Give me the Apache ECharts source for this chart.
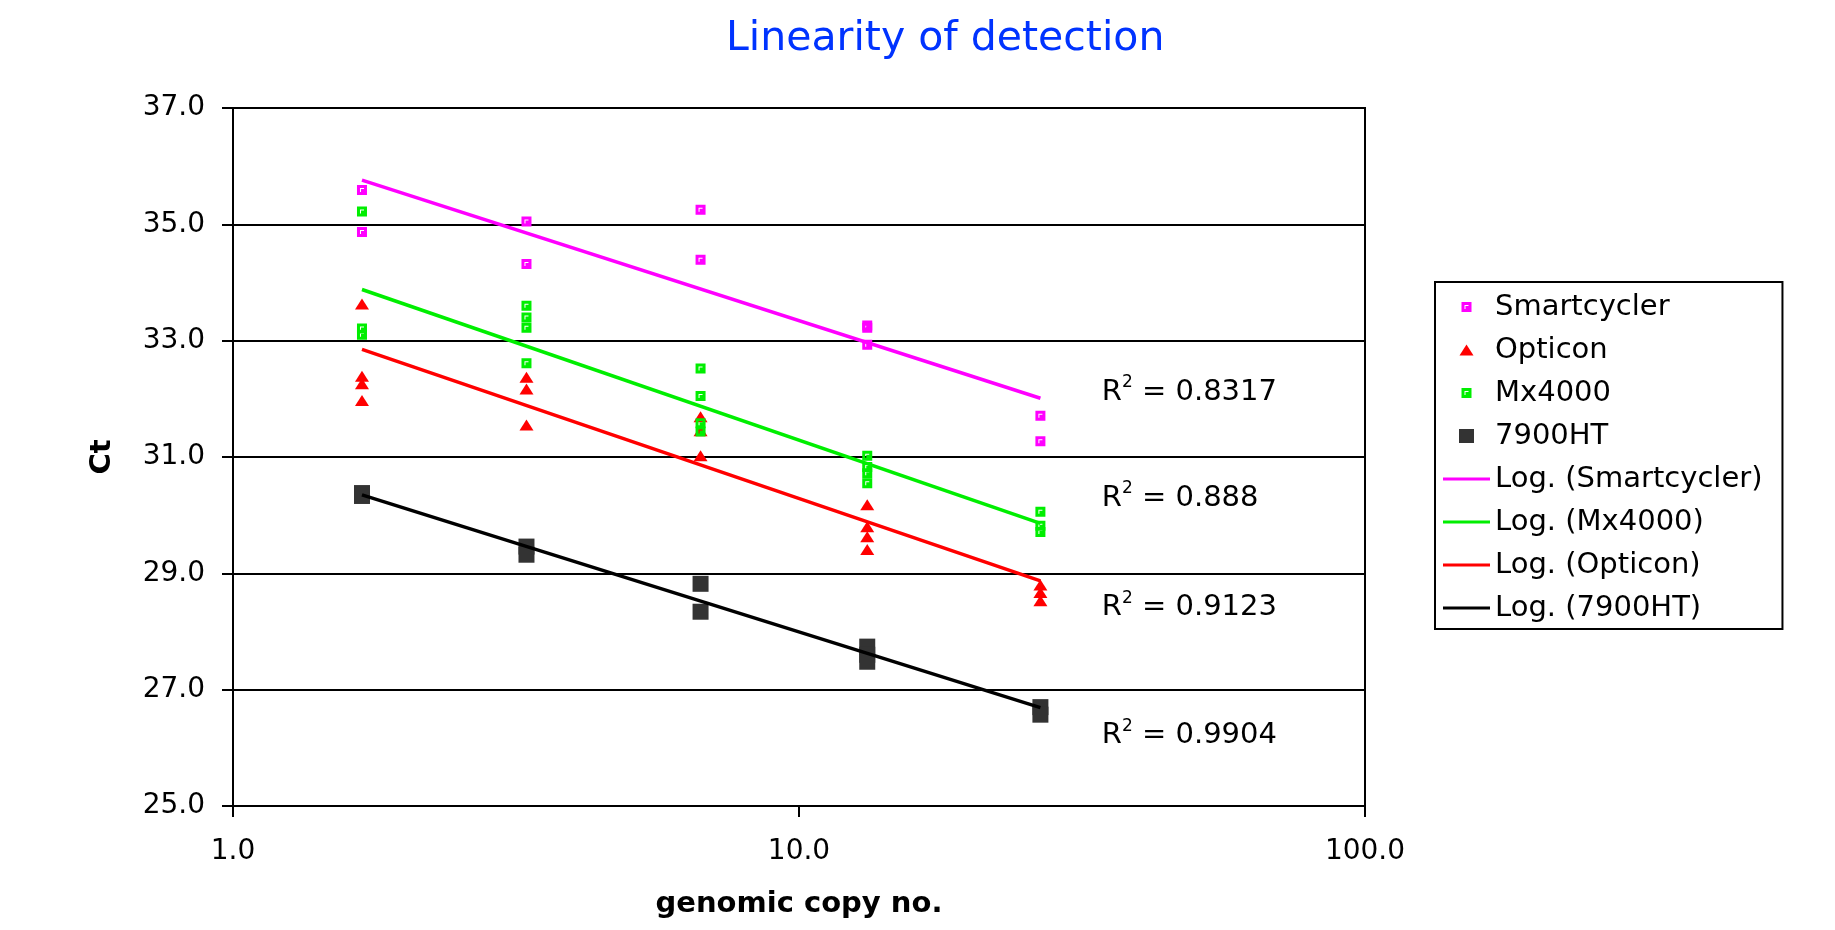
<!DOCTYPE html>
<html>
<head>
<meta charset="utf-8">
<title>Linearity of detection</title>
<script src="https://cdn.jsdelivr.net/npm/echarts@6/dist/echarts.min.js"></script>
<style>
html, body { margin: 0; padding: 0; background: #fff; }
#chart { width: 1835px; height: 930px; }
</style>
</head>
<body>
<div id="chart"></div>
<script>
// genomic copy numbers (x)
const copyNo = [1.69, 3.3, 6.7, 13.2, 26.7]

// Ct replicates per copy number
const smartcyclerCt = [[35.59, 34.87], [35.05, 34.32], [35.25, 34.39], [33.26, 33.22, 32.93], [31.71, 31.27]]
const opticonCt = [[33.63, 32.39, 32.26, 31.97], [32.37, 32.17, 31.55], [31.69, 31.45, 31.02], [30.18, 29.8, 29.63, 29.41], [28.8, 28.67, 28.53]]
const mx4000Ct = [[35.22, 33.21, 33.1], [33.6, 33.4, 33.22, 32.61], [32.52, 32.05, 31.58, 31.44], [31.02, 30.83, 30.72, 30.55], [30.06, 29.82, 29.71]]
const ht7900Ct = [[30.38, 30.33], [29.46, 29.32], [28.82, 28.34], [27.74, 27.6, 27.48], [26.7, 26.57]]

// log trend lines: Ct at first and last copy number
const smartTrend = [35.76, 32.01]
const mxTrend = [33.88, 29.86]
const opticonTrend = [32.85, 28.87]
const htTrend = [30.35, 26.69]

// R squared annotations
const r2Text = ['0.8317', '0.888', '0.9123', '0.9904']
const r2Ct = [32.11, 30.29, 28.41, 26.21]
const r2Copy = 34.2

const yTicks = [25, 27, 29, 31, 33, 35, 37]

const FONT = 'DejaVu Sans'

const toPoints = (groups) => {
  const pts = []
  groups.forEach((g, i) => g.forEach(v => pts.push([copyNo[i], v])))
  return pts
}
const trendPoints = (t) => [[copyNo[0], t[0]], [copyNo[copyNo.length - 1], t[1]]]

// marker shapes
const openSquare = 'path://M0 0H10V10H0Z M3 3V7H4V4H7V3Z'
// legend icons drawn in a 47x16 box
const iconSquare = 'path://M0 0M47 16M18.5 3H28.5V13H18.5Z M21.5 6V10H22.5V7H25.5V6Z'
const iconTriangle = 'path://M0 0M47 16M16.5 13.5H30.5L23.5 2.5Z'
const iconBlock = 'path://M0 0M47 16M16 1H31V15H16Z'
const iconLine = 'path://M0 0M47 16M0 6.5H47V9.5H0Z'

const chart = echarts.init(document.getElementById('chart'))

const scatter = (name, data, color, symbol, size) => ({
  name, type: 'scatter', data: toPoints(data), symbol, symbolSize: size,
  itemStyle: { color, opacity: 1 }, z: 2
})
const trend = (name, data, color) => ({
  name, type: 'line', data: trendPoints(data), symbol: 'none', color,
  lineStyle: { color, width: 3.5 }, z: 3
})

const option = {
  backgroundColor: '#fff',
  animation: false,
  title: {
    text: 'Linearity of detection',
    left: 726,
    top: 19,
    padding: 0,
    textStyle: { fontFamily: FONT, fontSize: 41, fontWeight: 'normal', color: '#0033ff' }
  },
  grid: {
    left: 233, right: 470, top: 108, bottom: 124,
    show: true, borderColor: '#000', borderWidth: 2
  },
  legend: {
    orient: 'vertical',
    left: 1435,
    top: 282,
    itemWidth: 47,
    itemHeight: 16,
    itemGap: 13,
    padding: [10, 20, 6, 8],
    borderColor: '#000',
    borderWidth: 2,
    textStyle: { fontFamily: FONT, fontSize: 29, color: '#000', lineHeight: 30 },
    data: [
      { name: 'Smartcycler', icon: iconSquare, itemStyle: { color: '#ff00ff' } },
      { name: 'Opticon', icon: iconTriangle, itemStyle: { color: '#ff0000' } },
      { name: 'Mx4000', icon: iconSquare, itemStyle: { color: '#00ee00' } },
      { name: '7900HT', icon: iconBlock, itemStyle: { color: '#333333' } },
      { name: 'Log. (Smartcycler)', icon: iconLine, itemStyle: { color: '#ff00ff' } },
      { name: 'Log. (Mx4000)', icon: iconLine, itemStyle: { color: '#00ee00' } },
      { name: 'Log. (Opticon)', icon: iconLine, itemStyle: { color: '#ff0000' } },
      { name: 'Log. (7900HT)', icon: iconLine, itemStyle: { color: '#000000' } }
    ]
  },
  xAxis: {
    type: 'log',
    logBase: 10,
    min: 1,
    max: 100,
    name: 'genomic copy no.',
    nameLocation: 'middle',
    nameGap: 84,
    nameTextStyle: { fontFamily: FONT, fontSize: 29, fontWeight: 'bold', color: '#000' },
    axisLine: { lineStyle: { color: '#000', width: 2 } },
    axisTick: { show: true, length: 11, lineStyle: { color: '#000', width: 2 } },
    minorTick: { show: false },
    splitLine: { show: false },
    axisLabel: {
      fontFamily: FONT, fontSize: 28, color: '#000', margin: 32,
      formatter: v => Number(v).toFixed(1)
    }
  },
  yAxis: {
    type: 'value',
    min: yTicks[0],
    max: yTicks[yTicks.length - 1],
    interval: 2,
    name: 'Ct',
    nameLocation: 'middle',
    nameGap: 116,
    nameTextStyle: { fontFamily: FONT, fontSize: 29, fontWeight: 'bold', color: '#000' },
    axisLine: { show: true, lineStyle: { color: '#000', width: 2 } },
    axisTick: { show: true, length: 11, lineStyle: { color: '#000', width: 2 } },
    splitLine: { show: true, lineStyle: { color: '#000', width: 2 } },
    axisLabel: {
      fontFamily: FONT, fontSize: 28, color: '#000', margin: 28,
      formatter: v => v.toFixed(1)
    }
  },
  series: [
    scatter('Smartcycler', smartcyclerCt, '#ff00ff', openSquare, 10),
    scatter('Opticon', opticonCt, '#ff0000', 'triangle', [14, 11]),
    scatter('Mx4000', mx4000Ct, '#00ee00', openSquare, 10),
    scatter('7900HT', ht7900Ct, '#333333', 'rect', 16),
    trend('Log. (Smartcycler)', smartTrend, '#ff00ff'),
    trend('Log. (Mx4000)', mxTrend, '#00ee00'),
    trend('Log. (Opticon)', opticonTrend, '#ff0000'),
    trend('Log. (7900HT)', htTrend, '#000000'),
    {
      name: 'r2',
      type: 'scatter',
      silent: true,
      symbolSize: 1,
      itemStyle: { color: 'transparent' },
      data: r2Ct.map(v => [r2Copy, v]),
      label: {
        show: true,
        position: 'right',
        distance: 0,
        color: '#000',
        opacity: 1,
        formatter: p => '{r|R}{s|2}{r| = ' + r2Text[p.dataIndex] + '}',
        rich: {
          r: { fontFamily: FONT, fontSize: 29, color: '#000', lineHeight: 36 },
          s: { fontFamily: FONT, fontSize: 17, color: '#000', verticalAlign: 'top', lineHeight: 17 }
        }
      }
    }
  ]
}

chart.setOption(option)
window.addEventListener('resize', () => chart.resize())
</script>
</body>
</html>
